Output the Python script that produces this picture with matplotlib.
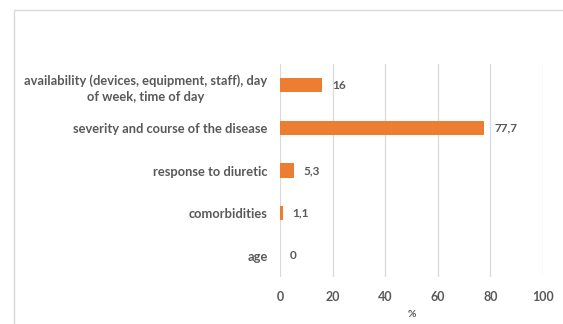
import matplotlib
matplotlib.use("Agg")
import matplotlib.pyplot as plt
from matplotlib.patches import Rectangle

categories = [
    "availability (devices, equipment, staff), day\nof week, time of day",
    "severity and course of the disease",
    "response to diuretic",
    "comorbidities",
    "age",
]
values = [16, 77.7, 5.3, 1.1, 0]
value_labels = ["16", "77,7", "5,3", "1,1", "0"]
x_ticks = [0, 20, 40, 60, 80, 100]

TEXT = "#595959"
GRID = "#d9d9d9"
BAR = "#ED7D31"

plt.rcParams["font.family"] = ["Lato", "DejaVu Sans"]

fig = plt.figure(figsize=(5.63, 3.24), dpi=100)
fig.patch.set_facecolor("white")

# chart area border (open to the right and bottom)
fig.patches.append(Rectangle((14 / 563, -0.1), 1.0, 1 - 10 / 324 + 0.1,
                             transform=fig.transFigure, fill=False,
                             edgecolor=GRID, linewidth=1.0))

ax = fig.add_axes([280 / 563, 1 - 277 / 324, (543 - 280) / 563, (277 - 64) / 324])
ypos = list(range(len(categories)))
ax.barh(ypos, values, height=0.33, color=BAR, zorder=3)
ax.set_ylim(len(categories) - 0.5, -0.5)
ax.set_xlim(0, 100)
ax.set_xticks(x_ticks)
ax.set_xticklabels([str(t) for t in x_ticks], fontsize=9, color=TEXT,
                   fontweight="bold")
ax.set_yticks(ypos)
ax.set_yticklabels(categories, fontsize=9.3, color=TEXT, fontweight="bold",
                   multialignment="center", linespacing=1.45)
ax.tick_params(length=0, pad=9)
ax.tick_params(axis="x", pad=10)
for s in ax.spines.values():
    s.set_visible(False)
ax.xaxis.grid(True, color=GRID, linewidth=0.9, zorder=0)
ax.set_axisbelow(True)

for y, v, lab in zip(ypos, values, value_labels):
    ax.annotate(lab, (v, y), xytext=(7, 0), textcoords="offset points",
                va="center", ha="left", fontsize=8.5, color=TEXT,
                fontweight="bold")

ax.set_xlabel("%", fontsize=7.5, color=TEXT, fontweight="bold", labelpad=5)

fig.savefig("out.png", dpi=100)
